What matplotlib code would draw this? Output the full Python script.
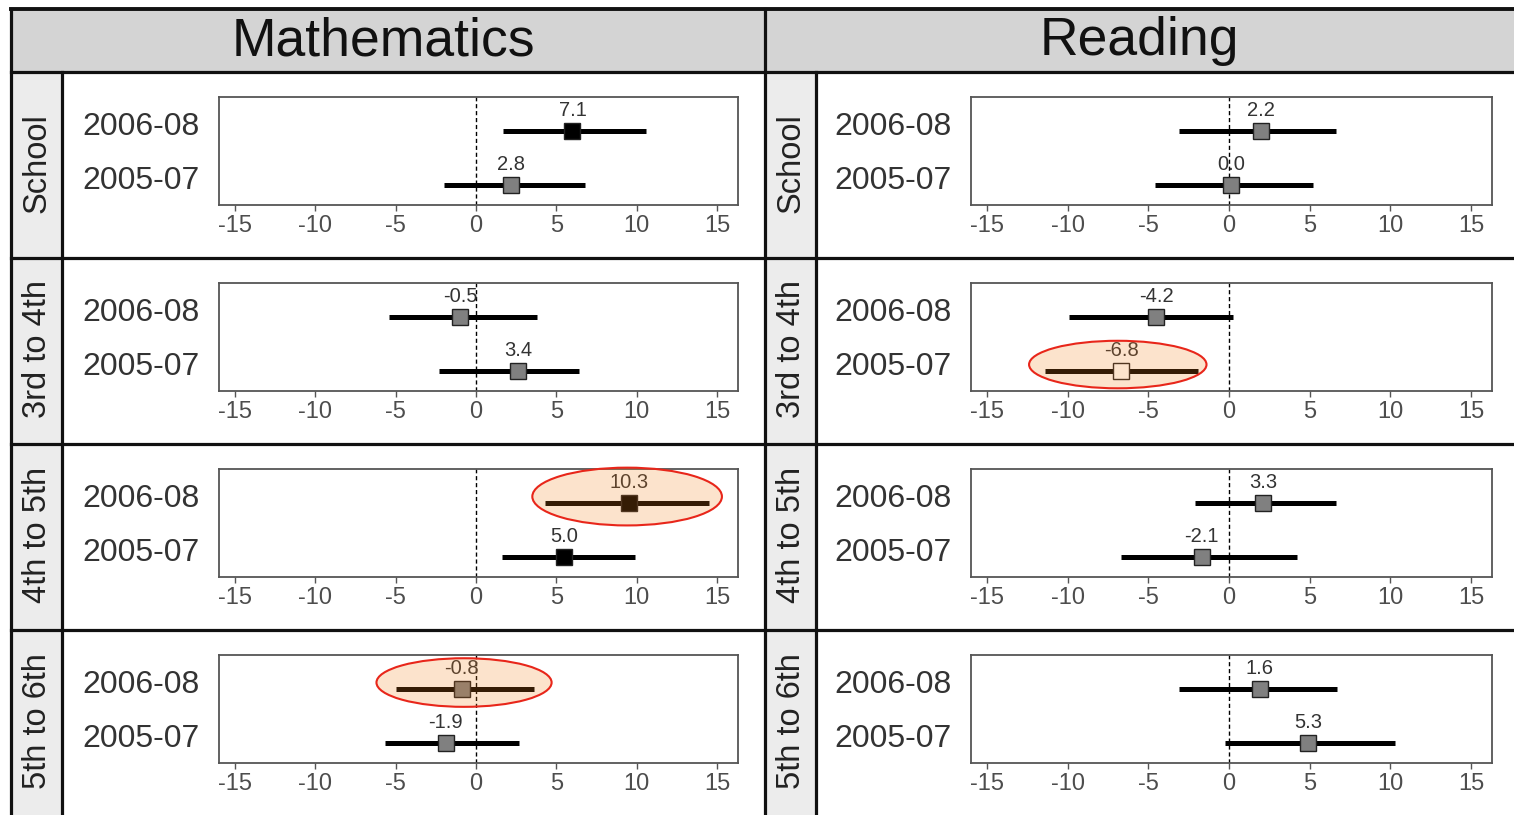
import matplotlib
matplotlib.use("Agg")
import matplotlib.pyplot as plt
from matplotlib.patches import Rectangle, Ellipse
from matplotlib.transforms import ScaledTranslation

plt.rcParams['font.family'] = ['Liberation Sans', 'DejaVu Sans']
plt.rcParams['axes.unicode_minus'] = False

# ---------------- data ----------------
subjects = ["Mathematics", "Reading"]
grades = ["School", "3rd to 4th", "4th to 5th", "5th to 6th"]
periods = ["2006-08", "2005-07"]
xticks = [-15, -10, -5, 0, 5, 10, 15]

# point estimates as drawn (order per panel: 2006-08, 2005-07)
math_est = [[6.0, 2.2], [-1.0, 2.6], [9.5, 5.5], [-0.9, -1.9]]
math_lo = [[1.7, -2.0], [-5.4, -2.3], [4.3, 1.6], [-5.0, -5.7]]
math_hi = [[10.6, 6.8], [3.8, 6.4], [14.5, 9.9], [3.6, 2.7]]
math_lab = [["7.1", "2.8"], ["-0.5", "3.4"], ["10.3", "5.0"], ["-0.8", "-1.9"]]
math_col = [["black", "grey"], ["grey", "grey"], ["black", "black"], ["grey", "grey"]]

read_est = [[2.0, 0.1], [-4.5, -6.7], [2.1, -1.7], [1.9, 4.9]]
read_lo = [[-3.1, -4.6], [-9.9, -11.4], [-2.1, -6.7], [-3.1, -0.25]]
read_hi = [[6.6, 5.2], [0.25, -1.9], [6.6, 4.2], [6.7, 10.3]]
read_lab = [["2.2", "0.0"], ["-4.2", "-6.8"], ["3.3", "-2.1"], ["1.6", "5.3"]]
read_col = [["grey", "grey"], ["grey", "white"], ["grey", "grey"], ["grey", "grey"]]

# highlighted estimates: (subject, grade, period, x-left, x-right, height)
highlights = [(0, 2, 0, 3.5, 15.3, 1.07), (0, 3, 0, -6.2, 4.7, 0.9), (1, 1, 1, -12.4, -1.4, 0.88)]

est = [math_est, read_est]
lo = [math_lo, read_lo]
hi = [math_hi, read_hi]
labs = [math_lab, read_lab]
cols = [math_col, read_col]

# ---------------- layout ----------------
W, H = 1514, 815
fig = plt.figure(figsize=(W / 100, H / 100), dpi=100)
bg = fig.add_axes([0, 0, 1, 1])
bg.set_xlim(0, W)
bg.set_ylim(H, 0)
bg.axis('off')

hdr_top, hdr_bot = 9, 72
row_h = 186
col_x = [11, 765]
col_end = [765, W]
strip_w = 51
lw_frame = 2.3

bg.add_patch(Rectangle((11, hdr_top), W - 11, hdr_bot - hdr_top, facecolor='#d4d4d4',
                       edgecolor='none'))
hdr_cx = [383, 1139]
for j, s in enumerate(subjects):
    x0 = col_x[j] + strip_w
    bg.text(hdr_cx[j], (hdr_top + hdr_bot) / 2 + 1, s, ha='center', va='center',
            fontsize=38.5, color='#111111')
    bg.add_patch(Rectangle((col_x[j], hdr_bot), strip_w, H - hdr_bot, facecolor='#ececec',
                           edgecolor='none'))
    bg.plot([x0, x0], [hdr_bot, H], color='#111111', lw=lw_frame)
    for r, g in enumerate(grades):
        yc = hdr_bot + r * row_h + row_h / 2 - 2
        bg.text(col_x[j] + strip_w / 2 + 1, yc, g, rotation=90, ha='center', va='center',
                fontsize=23.5, color='#222222')

bg.plot([11, W], [hdr_top, hdr_top], color='#111111', lw=lw_frame + 0.5)
bg.plot([11, 11], [hdr_top, H], color='#111111', lw=lw_frame)
bg.plot([765, 765], [hdr_top, H], color='#111111', lw=lw_frame)
for r in range(4):
    y = hdr_bot + r * row_h
    bg.plot([11, W], [y, y], color='#111111', lw=lw_frame)

ax_x = [(219, 738), (971, 1492)]
overlay = (0.96, 0.5, 0.1, 0.22)
lab_shift = ScaledTranslation(0, 8 / 100, fig.dpi_scale_trans)
for j in range(2):
    for r in range(4):
        top = hdr_bot + r * row_h + 25
        bot = top + 108
        x0, x1 = ax_x[j]
        ax = fig.add_axes([x0 / W, 1 - bot / H, (x1 - x0) / W, (bot - top) / H])
        ax.set_xlim(-16.0, 16.3)
        ax.set_ylim(0.63, 2.63)
        ax.axvline(0, color='black', lw=1.0, dashes=(3, 2), zorder=1)
        yv = [2, 1]
        for k in range(2):
            ax.plot([lo[j][r][k], hi[j][r][k]], [yv[k], yv[k]], color='black', lw=3.6,
                    solid_capstyle='butt', zorder=2)
            ax.plot([est[j][r][k]], [yv[k]], marker='s', markersize=11.5,
                    markerfacecolor=cols[j][r][k], markeredgecolor='#222222',
                    markeredgewidth=1.0, zorder=3)
            ax.annotate(labs[j][r][k], (est[j][r][k], yv[k]), xytext=(0, 8),
                        textcoords='offset points', ha='center', va='bottom',
                        fontsize=14.5, color='#333333', zorder=4)
        for (hj, hr, hk, ex0, ex1, eh) in highlights:
            if hj == j and hr == r:
                yc = yv[hk] + 0.12
                e = Ellipse(((ex0 + ex1) / 2, yc), ex1 - ex0, eh, facecolor=overlay,
                            edgecolor='#e8261a', lw=1.5, zorder=5, clip_on=False)
                ax.add_patch(e)
        ax.set_yticks(yv)
        ax.set_yticklabels(periods, fontsize=23, color='#333333')
        ax.tick_params(axis='y', length=0, pad=14)
        for t in ax.get_yticklabels():
            t.set_transform(t.get_transform() + lab_shift)
        ax.set_xticks(xticks)
        ax.set_xticklabels([str(t) for t in xticks], fontsize=17, color='#4d4d4d')
        ax.tick_params(axis='x', length=4, width=1, color='#555555', pad=3)
        for sp in ax.spines.values():
            sp.set_color('#555555')
            sp.set_linewidth(1.3)

fig.savefig('out.png', dpi=100)
